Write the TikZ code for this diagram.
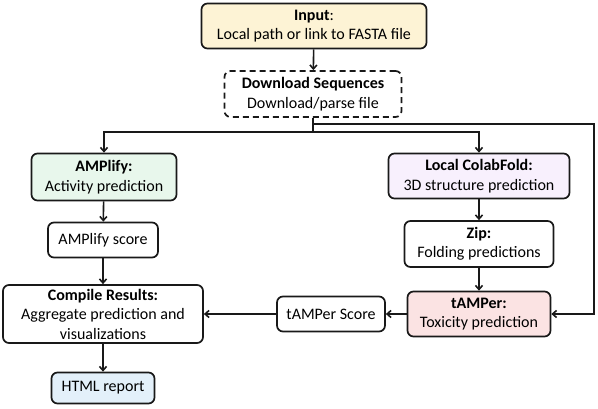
\documentclass[tikz,border=0pt]{standalone}
\usepackage{fontspec}
\setmainfont{Carlito}
\usepackage{xcolor}
\usepackage{tikz}
\usetikzlibrary{positioning,arrows.meta}
\definecolor{inyellow}{RGB}{253,243,213}
\definecolor{ampgreen}{RGB}{232,247,236}
\definecolor{foldlilac}{RGB}{248,240,253}
\definecolor{toxpink}{RGB}{251,227,227}
\definecolor{htmlblue}{RGB}{227,240,250}
\definecolor{edge}{RGB}{25,25,25}

\tikzset{
  box/.style={draw=edge, line width=1.7pt, rounded corners=6pt, align=center,
    inner sep=0pt, font=\fontsize{16}{19.5}\selectfont},
  arr/.style={draw=edge, line width=1.6pt, -{Straight Barb[length=4pt,width=7pt]}},
  wire/.style={draw=edge, line width=1.6pt}
}

\begin{document}
\begin{tikzpicture}[x=1pt,y=-1pt]
\useasboundingbox (0,0) rectangle (598,409);

% top of the pipeline
\node[box, fill=inyellow, minimum width=225pt, minimum height=45pt] (input) at (314,26)
  {\textbf{Input}:\\Local path or link to FASTA file};
\node[box, dash pattern=on 6pt off 4pt, minimum width=177pt, minimum height=46pt] (download) at (313,94)
  {\textbf{Download Sequences}\\Download/parse file};

% left branch
\node[box, fill=ampgreen, minimum width=145pt, minimum height=47pt] (amplify) at (104,177)
  {\textbf{AMPlify:}\\Activity prediction};
\node[box, minimum width=110pt, minimum height=35pt] (ampscore) at (103,240)
  {AMPlify score};
\node[box, minimum width=200pt, minimum height=58pt] (compile) at (103,314)
  {\textbf{Compile Results:}\\Aggregate prediction and\\visualizations};
\node[box, fill=htmlblue, minimum width=103pt, minimum height=31pt] (html) at (103,388)
  {HTML report};

% right branch
\node[box, fill=foldlilac, minimum width=181pt, minimum height=45pt] (colab) at (479,176)
  {\textbf{Local ColabFold:}\\3D structure prediction};
\node[box, minimum width=149pt, minimum height=46pt] (zip) at (479,244)
  {\textbf{Zip:}\\Folding predictions};
\node[box, fill=toxpink, minimum width=143pt, minimum height=45pt] (tamper) at (479,314)
  {\textbf{tAMPer:}\\Toxicity prediction};
\node[box, minimum width=108pt, minimum height=35pt] (tamperscore) at (331,314)
  {tAMPer Score};

\coordinate (fork) at (313,132);
\coordinate (loop) at (594,124);

\draw[arr] (input) -- (download);
\draw[wire] (download.south) -- (fork);
\draw[arr] (fork) -| (amplify.north);
\draw[arr] (fork) -| (colab.north);
\draw[arr] (download.south |- loop) -- (loop) |- (tamper.east);

\draw[arr] (amplify) -- (ampscore);
\draw[arr] (ampscore) -- (compile);
\draw[arr] (compile) -- (html);

\draw[arr] (colab) -- (zip);
\draw[arr] (zip) -- (tamper);
\draw[arr] (tamper) -- (tamperscore);
\draw[arr] (tamperscore) -- (compile);
\end{tikzpicture}
\end{document}
